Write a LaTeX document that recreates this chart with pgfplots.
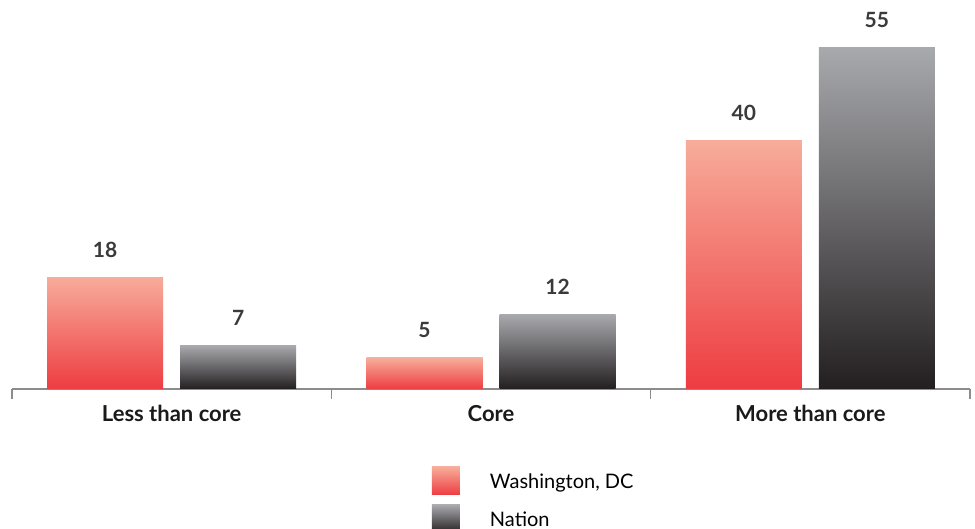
\documentclass[border=0pt]{standalone}
\usepackage{fontspec}
\setmainfont{Lato}
\usepackage{pgfplots}
\pgfplotsset{compat=1.18}
\definecolor{redtop}{RGB}{247,172,154}
\definecolor{redbot}{RGB}{238,60,65}
\definecolor{graytop}{RGB}{168,169,173}
\definecolor{graybot}{RGB}{35,31,32}
\definecolor{axisgray}{RGB}{140,140,140}
\definecolor{valgray}{RGB}{58,58,58}
\pgfplotsset{
  redbar/.style={draw=none, top color=redtop, bottom color=redbot, bar shift=-66.5pt, forget plot},
  graybar/.style={draw=none, top color=graytop, bottom color=graybot, bar shift=66.5pt, forget plot},
}
\begin{document}
\begin{tikzpicture}
\useasboundingbox (0,0) rectangle (975pt,529pt);
\begin{axis}[
  at={(12pt,140pt)}, anchor=south west,
  scale only axis, width=958pt, height=389pt,
  xmin=-0.5, xmax=2.5, ymin=0, ymax=62.74,
  ybar, bar width=116pt,
  axis x line*=bottom, axis y line=none,
  x axis line style={axisgray, line width=1.5pt},
  xtick={-0.5,0.5,1.5,2.5}, xticklabels={,,,},
  major tick length=10pt, tick align=outside,
  x tick style={axisgray, line width=1.5pt},
  extra x ticks={0,1,2},
  extra x tick labels={Less than core, Core, More than core},
  extra x tick style={major tick length=0pt, tick style={draw=none},
    xticklabel style={anchor=base, yshift=-33pt, text={rgb,255:red,26;green,26;blue,26},
      font=\bfseries\fontsize{22}{26}\selectfont}},
  ytick=\empty,
  clip=false,
  /pgf/number format/assume math mode=true,
  nodes near coords,
  every node near coord/.append style={font=\bfseries\fontsize{21}{24}\selectfont,
    text=valgray, anchor=base, yshift=20pt},
  legend style={draw=none, fill=none, at={(axis description cs:0.4384,-0.2005)},
    anchor=north west, inner sep=0pt, outer sep=0pt, row sep=10pt,
    nodes={inner sep=0pt}, font=\fontsize{20}{24}\selectfont,
    /tikz/every odd column/.append style={column sep=30pt}},
  legend cell align=left,
  legend style={cells={anchor=base west}},
  legend image code/.code={\fill[#1] (0pt,-6.8pt) rectangle (28pt,21.2pt);},
]
\addlegendimage{draw=none, top color=redtop, bottom color=redbot}
\addlegendentry{Washington, DC}
\addlegendimage{draw=none, top color=graytop, bottom color=graybot}
\addlegendentry{Nation}
\addplot[redbar] coordinates {(0,18)};
\addplot[redbar] coordinates {(1,5)};
\addplot[redbar] coordinates {(2,40)};
\addplot[graybar] coordinates {(0,7)};
\addplot[graybar] coordinates {(1,12)};
\addplot[graybar] coordinates {(2,55)};
\end{axis}
\end{tikzpicture}
\end{document}
